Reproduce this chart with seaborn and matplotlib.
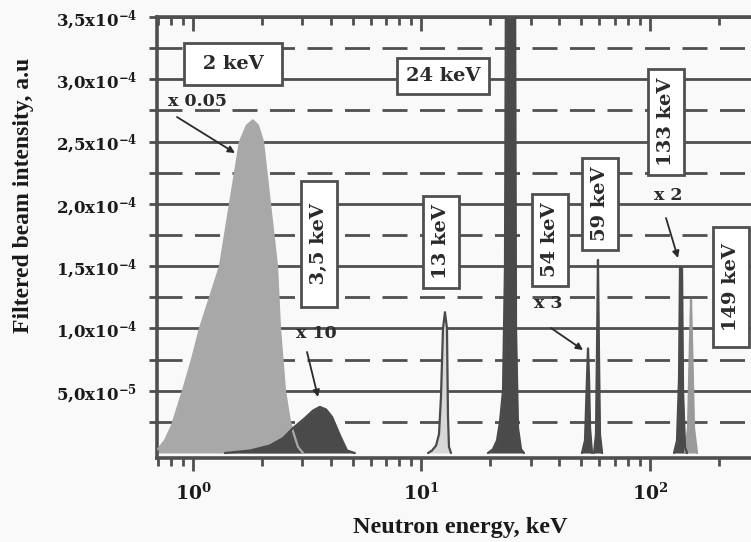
import matplotlib
matplotlib.use("Agg")
import matplotlib.pyplot as plt
import numpy as np
import pandas as pd
import seaborn as sns

# ---------------- data (energy in keV, intensity in units of 1e-4 a.u.) ----------------
e_2kev = [0.703, 0.754, 0.809, 0.904, 0.99, 1.073, 1.187, 1.313, 1.452, 1.606, 1.723, 1.83,
          1.925, 2.025, 2.173, 2.332, 2.403, 2.527, 2.658, 2.88, 3.03]
i_2kev = [0.03, 0.10, 0.22, 0.50, 0.75, 1.00, 1.25, 1.50, 2.00, 2.50, 2.63, 2.67,
          2.63, 2.50, 2.00, 1.50, 1.00, 0.50, 0.25, 0.05, 0.0]

e_3kev = [1.38, 1.78, 2.17, 2.48, 2.74, 3.09, 3.35, 3.59, 3.82, 4.06, 4.40, 4.72, 5.11]
i_3kev = [0.0, 0.02, 0.06, 0.12, 0.20, 0.28, 0.34, 0.37, 0.35, 0.29, 0.14, 0.02, 0.0]

e_13kev = [10.68, 11.12, 11.58, 11.93, 12.17, 12.42, 12.67, 12.93, 13.06, 13.19, 13.46]
i_13kev = [0.0, 0.02, 0.06, 0.15, 0.45, 1.00, 1.13, 1.00, 0.30, 0.05, 0.0]

e_24kev = [19.54, 20.55, 21.4, 22.06, 22.74, 23.2, 23.44, 25.66, 25.92, 26.45, 27.26, 28.09]
i_24kev = [0.0, 0.03, 0.10, 0.25, 0.50, 1.50, 4.0, 4.0, 1.00, 0.20, 0.03, 0.0]

e_54kev = [50.4, 51.95, 53.0, 53.55, 54.1, 54.65, 55.75]
i_54kev = [0.0, 0.10, 0.60, 0.84, 0.60, 0.20, 0.0]

e_59kev = [56.9, 58.04, 58.6, 59.2, 59.8, 60.4, 61.7]
i_59kev = [0.0, 0.15, 0.80, 1.55, 0.80, 0.15, 0.0]

e_133kev = [127.4, 131.3, 134.0, 135.3, 138.1, 139.5, 142.3, 145.2]
i_133kev = [0.0, 0.10, 0.60, 1.49, 1.49, 0.50, 0.05, 0.0]

e_149kev = [142.3, 146.7, 149.6, 151.2, 152.7, 155.8, 160.6]
i_149kev = [0.0, 0.20, 0.90, 1.23, 0.90, 0.20, 0.0]

ytick_vals = [0.5, 1.0, 1.5, 2.0, 2.5, 3.0, 3.5]
ytick_labels = ["5,0x10$^{-5}$", "1,0x10$^{-4}$", "1,5x10$^{-4}$", "2,0x10$^{-4}$",
                "2,5x10$^{-4}$", "3,0x10$^{-4}$", "3,5x10$^{-4}$"]
yminor_vals = [0.25, 0.75, 1.25, 1.75, 2.25, 2.75, 3.25]
xtick_vals = [1, 10, 100]
xtick_labels = ["10$^{0}$", "10$^{1}$", "10$^{2}$"]

# ---------------- style ----------------
sns.set_theme(style="white")
plt.rcParams['font.family'] = ['DejaVu Serif']
plt.rcParams['font.weight'] = 'bold'
plt.rcParams['mathtext.fontset'] = 'dejavuserif'
plt.rcParams['mathtext.default'] = 'bf'

BG = '#f9f9f9'
GRID = '#4f4f4f'
LIGHT = '#a8a8a8'
DARK = '#4a4a4a'
MID = '#9a9a9a'

W, H = 751, 542
fig = plt.figure(figsize=(W / 100, H / 100), dpi=100, facecolor=BG)
ax = fig.add_axes([157 / W, 1 - 458 / H, (756 - 157) / W, (458 - 17) / H])
ax.set_facecolor(BG)
ax.set_xscale('log')
ax.set_xlim(0.696, 291)
ax.set_ylim(-0.04, 3.5)

# grid
ax.set_yticks(ytick_vals)
ax.set_yticklabels(ytick_labels)
ax.set_yticks(yminor_vals, minor=True)
ax.grid(False)
ax.yaxis.grid(True, which='major', color=GRID, lw=2.0, ls='-', zorder=0)
ax.yaxis.grid(True, which='minor', color=GRID, lw=2.0, ls=(0, (9, 4.5)), zorder=0)
ax.set_axisbelow(True)

# peaks
series = [
    (e_2kev, i_2kev, LIGHT, LIGHT),
    (e_149kev, i_149kev, MID, MID),
    (e_3kev, i_3kev, DARK, DARK),
    (e_13kev, i_13kev, '#d8d8d8', DARK),
    (e_24kev, i_24kev, DARK, DARK),
    (e_54kev, i_54kev, DARK, DARK),
    (e_59kev, i_59kev, DARK, DARK),
    (e_133kev, i_133kev, DARK, DARK),
]
for e, i, fc, lc in series:
    df = pd.DataFrame({'energy': e, 'intensity': i})
    ax.fill_between(df['energy'], df['intensity'], 0, color=fc, lw=0, zorder=2)
    sns.lineplot(data=df, x='energy', y='intensity', color=lc, lw=1.6,
                 estimator=None, sort=False, ax=ax, zorder=3)

ax.set_xlabel('')
ax.set_ylabel('')

# x ticks
ax.set_xticks(xtick_vals)
ax.set_xticklabels(xtick_labels)
ax.xaxis.set_minor_locator(matplotlib.ticker.LogLocator(base=10, subs=np.arange(2, 10)))
ax.xaxis.set_minor_formatter(matplotlib.ticker.NullFormatter())
ax.tick_params(axis='x', which='major', direction='out', length=9, width=2, color=GRID,
               bottom=True, pad=9, labelsize=13.5)
ax.tick_params(axis='x', which='minor', direction='out', length=6, width=2, color=GRID, bottom=True)
ax.tick_params(axis='y', which='both', direction='out', length=6, width=2, color=GRID,
               left=True, pad=8, labelsize=12)
for lab in ax.get_xticklabels() + ax.get_yticklabels():
    lab.set_fontweight('bold')
    lab.set_color('#1a1a1a')

sec = ax.secondary_xaxis('top')
sec.set_xticks(xtick_vals)
sec.xaxis.set_minor_locator(matplotlib.ticker.LogLocator(base=10, subs=np.arange(2, 10)))
sec.xaxis.set_minor_formatter(matplotlib.ticker.NullFormatter())
sec.tick_params(axis='x', which='major', direction='in', length=10, width=2, color=GRID, labeltop=False)
sec.tick_params(axis='x', which='minor', direction='in', length=6, width=2, color=GRID)
sec.spines['top'].set_visible(False)

for s in ['left', 'bottom', 'top']:
    ax.spines[s].set_color(GRID)
    ax.spines[s].set_linewidth(2.6)
ax.spines['right'].set_visible(False)


def P(x, y):
    return (x / W, 1 - y / H)


box = dict(boxstyle='square,pad=0.45', facecolor='white', edgecolor=GRID, lw=2)
lab_kw = dict(fontsize=14, fontweight='bold', color='#2a2a2a', ha='center', va='center',
              transform=fig.transFigure, zorder=10)

fig.text(*P(233, 64), " 2 keV ", bbox=dict(boxstyle='square,pad=0.6', facecolor='white',
                                            edgecolor=GRID, lw=2), **lab_kw)
fig.text(*P(443, 76), "24 keV", bbox=box, **lab_kw)
fig.text(*P(319, 244), "  3,5 keV  ", rotation=90, bbox=box, **lab_kw)
fig.text(*P(441, 242), "13 keV", rotation=90, bbox=box, **lab_kw)
fig.text(*P(550, 240), "54 keV", rotation=90, bbox=box, **lab_kw)
fig.text(*P(600, 204), "59 keV", rotation=90, bbox=box, **lab_kw)
fig.text(*P(666, 122), "133 keV", rotation=90, bbox=box, **lab_kw)
fig.text(*P(731, 287), " 149 keV ", rotation=90, bbox=box, **lab_kw)

mult_kw = dict(fontsize=12.5, fontweight='bold', color='#2a2a2a', ha='center', va='center',
               xycoords='figure fraction', textcoords='figure fraction', zorder=10,
               arrowprops=dict(arrowstyle='-|>', color='#2a2a2a', lw=1.3, mutation_scale=10,
                               shrinkA=0, shrinkB=0))
ax.annotate("", xy=P(235, 153), xytext=P(177, 117), **mult_kw)
fig.text(*P(198, 102), "x 0.05", fontsize=12.5, fontweight='bold', color='#2a2a2a',
         ha='center', va='center', zorder=10)
ax.annotate("", xy=P(318, 397), xytext=P(307, 352), **mult_kw)
fig.text(*P(316, 333), "x 10", fontsize=12.5, fontweight='bold', color='#2a2a2a',
         ha='center', va='center', zorder=10)
ax.annotate("", xy=P(583, 350), xytext=P(551, 328), **mult_kw)
fig.text(*P(548, 303), "x 3", fontsize=12.5, fontweight='bold', color='#2a2a2a',
         ha='center', va='center', zorder=10)
ax.annotate("", xy=P(678, 258), xytext=P(666, 218), **mult_kw)
fig.text(*P(668, 196), "x 2", fontsize=12.5, fontweight='bold', color='#2a2a2a',
         ha='center', va='center', zorder=10)

fig.text(*P(24, 195), "Filtered beam intensity, a.u", rotation=90, fontsize=17,
         fontweight='bold', ha='center', va='center', color='#1a1a1a', family='Liberation Serif')
fig.text(*P(460, 528), "Neutron energy, keV", fontsize=17.5, fontweight='bold',
         ha='center', va='center', color='#1a1a1a', family='Liberation Serif')

fig.savefig('out.png', dpi=100, facecolor=BG)
